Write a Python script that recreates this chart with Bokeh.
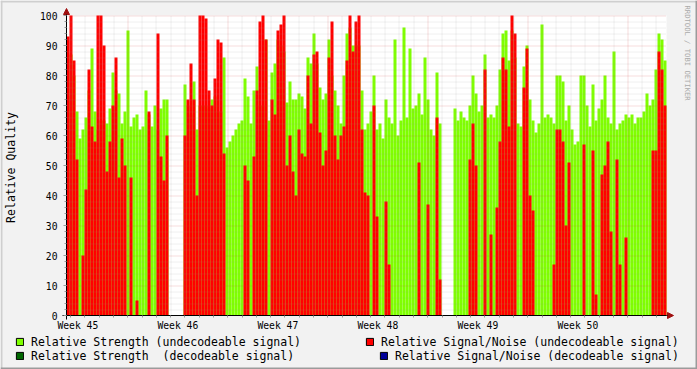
import math
import numpy as np
from bokeh.plotting import figure
from bokeh.models import (Range1d, FixedTicker, SingleIntervalTicker, Legend, LegendItem,
                          Label, Arrow, NormalHead, ColumnDataSource, BoxAnnotation)
from bokeh.embed import file_html
from bokeh.resources import INLINE

# ---------------- data ----------------
week_labels = ["Week 45", "Week 46", "Week 47", "Week 48", "Week 49", "Week 50"]
label_hours = [19, 187, 355, 523, 691, 859]          # label centres (hours from chart start)
week_start_hours = [103, 271, 439, 607, 775, 943]    # week boundaries (major grid)
day_hours = list(range(7, 1008, 24))                 # day boundaries (minor grid)
sample_hours = 5.04                                   # one consolidated sample
span_hours = 1008

N_ = None
# Relative Strength (undecodeable signal)
strength = [73, 87, 80, 68, 59, 62, 66, 75, 89, 68,
            62, 65, 65, 64, 69, 81, 75, 74, 64, 68,
            95, 63, 66, 67, 62, 63, 75, 67, 63, 70,
            62, 69, 72, 72, N_, N_, N_, N_, N_, 77,
            70, 67, 78, 62, 70, 70, 70, 69, 72, 73,
            68, 68, 86, 56, 58, 60, 62, 64, 65, 79,
            73, 64, 75, 83, 70, 70, 92, 65, 81, 84,
            92, 90, 88, 71, 78, 72, 72, 74, 73, 69,
            86, 84, 94, 84, 76, 72, 74, 92, 80, 75,
            70, 64, 80, 94, 96, 90, 90, 90, 75, 62,
            64, 68, 80, 62, 64, 59, 72, 66, 64, 92,
            60, 65, 96, 66, 89, 69, 70, 74, 67, 86,
            72, 62, 60, 81, 64, N_, N_, N_, N_, 69,
            65, 68, 66, 65, 70, 80, 74, 68, 70, 87,
            66, 67, 66, 70, 82, 94, 95, 85, 95, 86,
            64, 63, 83, 90, 72, 65, 61, 64, 97, 66,
            67, 66, 64, 80, 80, 78, 65, 70, 62, 57,
            58, 80, 80, 70, 63, 77, 65, 69, 72, 80,
            66, 64, 88, 62, 64, 65, 67, 66, 67, 64,
            66, 66, 68, 74, 70, 72, 82, 94, 92, 85]

# Relative Signal/Noise (undecodeable signal)
snr = [93, 100, 85, 52, 0, 20, 42, 82, 63, 58,
       100, 100, 90, 48, 58, 70, 86, 46, 59, 50,
       0, 46, 0, 5, 0, 0, 0, 68, 0, 0,
       94, 53, 45, 60, N_, N_, N_, N_, N_, 60,
       72, 84, 72, 40, 100, 100, 99, 75, 70, 79,
       92, 91, 54, 0, 0, 0, 0, 0, 0, 50,
       45, 0, 53, 75, 98, 100, 92, 0, 72, 67,
       95, 97, 100, 50, 60, 48, 40, 62, 54, 53,
       80, 64, 87, 88, 61, 50, 55, 86, 98, 60,
       52, 60, 63, 85, 100, 88, 98, 100, 62, 41,
       40, 0, 70, 33, 0, 0, 38, 17, 0, 0,
       0, 0, 0, 0, 0, 0, 0, 51, 0, 0,
       37, 0, 0, 66, 12, N_, N_, N_, N_, 0,
       0, 0, 0, 0, 52, 64, 50, 0, 0, 82,
       0, 27, 0, 36, 58, 86, 82, 63, 100, 94,
       0, 0, 76, 89, 40, 35, 0, 0, 0, 0,
       0, 0, 17, 62, 62, 58, 30, 51, 0, 0,
       0, 0, 57, 0, 0, 55, 7, 0, 47, 50,
       58, 28, 0, 52, 17, 0, 26, 0, 0, 0,
       0, 0, 0, 0, 0, 55, 55, 88, 82, 70]

GREEN = "#7FFF00"
RED = "#FF0000"
DGREEN = "#006600"
BLUE = "#000099"
FONT = "DejaVu Sans Mono"

# ---------------- geometry (canvas pixels -> data) ----------------
W, H = 697, 369
px_h = span_hours / 600.0          # hours per pixel
py_v = 1 / 3.0                     # value units per pixel
# plot area occupies canvas x 66..666, y 15..315
def hx(px):
    return (px - 66) * px_h

def vy(py):
    return (315 - py) * py_v

x_lo, x_hi = hx(0), hx(W)
y_lo, y_hi = vy(H), vy(0)

n = len(strength)
xs = [(i + 0.5) * sample_hours for i in range(n)]
src = ColumnDataSource(dict(
    x=xs,
    strength=np.array([np.nan if v is None else v for v in strength], dtype=float),
    snr=np.array([np.nan if v is None else v for v in snr], dtype=float),
))

p = figure(width=W, height=H, x_range=Range1d(x_lo, x_hi), y_range=Range1d(y_lo, y_hi),
           output_backend="svg", toolbar_location=None,
           min_border_left=0, min_border_right=0, min_border_top=0, min_border_bottom=0,
           background_fill_color="#F2F2F2", border_fill_color="#F2F2F2", outline_line_color=None)
p.grid.visible = False

# 3-D style frame of the image
p.add_layout(BoxAnnotation(left=x_lo, right=x_hi, bottom=vy(2), top=y_hi,
                           fill_color="#CFCFCF", fill_alpha=1, line_color=None, level="underlay"))
p.add_layout(BoxAnnotation(left=x_lo, right=hx(2), bottom=y_lo, top=y_hi,
                           fill_color="#CFCFCF", fill_alpha=1, line_color=None, level="underlay"))
p.add_layout(BoxAnnotation(left=hx(W - 2), right=x_hi, bottom=y_lo, top=y_hi,
                           fill_color="#9B9B9B", fill_alpha=1, line_color=None, level="underlay"))
p.add_layout(BoxAnnotation(left=x_lo, right=x_hi, bottom=y_lo, top=vy(H - 2),
                           fill_color="#9B9B9B", fill_alpha=1, line_color=None, level="underlay"))
# white canvas of the graph
p.add_layout(BoxAnnotation(left=0, right=span_hours, bottom=0, top=100,
                           fill_color="white", fill_alpha=1, line_color=None, level="underlay"))

p.vbar(x="x", top="strength", width=sample_hours, source=src,
       fill_color=GREEN, line_color=None)
p.vbar(x="x", top="snr", width=sample_hours, source=src,
       fill_color=RED, line_color=None)

# ---------------- grid (over the areas, like rrdtool) ----------------
def snap_x(h):
    return (math.floor(h / px_h) + 0.5) * px_h

minor_x = [snap_x(h) for h in day_hours if h not in week_start_hours]
major_x = [snap_x(h) for h in week_start_hours]
minor_y = [v - py_v / 2 for v in range(2, 101, 2) if v % 10]
major_y = [v - py_v / 2 for v in range(10, 101, 10)]

p.segment(x0=minor_x, x1=minor_x, y0=[0] * len(minor_x), y1=[100] * len(minor_x),
          line_color="#909090", line_alpha=0.28, line_dash="1 1", line_width=1)
p.segment(x0=[0] * len(minor_y), x1=[span_hours] * len(minor_y), y0=minor_y, y1=minor_y,
          line_color="#909090", line_alpha=0.28, line_dash="1 1", line_width=1)
p.segment(x0=major_x, x1=major_x, y0=[0] * len(major_x), y1=[100] * len(major_x),
          line_color="#D04040", line_alpha=0.35, line_dash="1 1", line_width=1)
p.segment(x0=[0] * len(major_y), x1=[span_hours] * len(major_y), y0=major_y, y1=major_y,
          line_color="#D04040", line_alpha=0.35, line_dash="1 1", line_width=1)

# ---------------- axes at fixed locations ----------------
xa = p.xaxis[0]
xa.fixed_location = 0
xa.bounds = (-4 * px_h, span_hours)
xa.ticker = FixedTicker(ticks=label_hours, minor_ticks=day_hours)
xa.major_label_overrides = {h: lab for h, lab in zip(label_hours, week_labels)}
xa.major_tick_line_color = None
xa.major_tick_out = 0
xa.major_tick_in = 0
xa.minor_tick_out = 2
xa.minor_tick_in = 0
xa.minor_tick_line_color = "#999999"
xa.major_label_standoff = 2
xa.major_label_text_font = FONT
xa.major_label_text_font_size = "9.7px"
xa.major_label_text_color = "black"
xa.axis_line_color = "black"

ya = p.yaxis[0]
ya.fixed_location = 0
ya.bounds = (-4 * py_v, 100)
ya.ticker = SingleIntervalTicker(interval=10, num_minor_ticks=5)
ya.major_tick_out = 3
ya.major_tick_in = 0
ya.minor_tick_out = 2
ya.minor_tick_in = 0
ya.major_tick_line_color = "#999999"
ya.minor_tick_line_color = "#999999"
ya.major_label_standoff = 6
ya.major_label_text_font = FONT
ya.major_label_text_font_size = "9.7px"
ya.major_label_text_color = "black"
ya.axis_line_color = "black"
ya.axis_label = "Relative Quality"
ya.axis_label_text_font = FONT
ya.axis_label_text_font_size = "11.5px"
ya.axis_label_text_font_style = "normal"
ya.axis_label_text_color = "black"
ya.axis_label_standoff = 19

# axis arrows
p.add_layout(Arrow(end=NormalHead(size=6, fill_color="#A01010", line_color="#A01010"),
                   x_start=span_hours, y_start=0, x_end=span_hours + 7 * px_h, y_end=0,
                   line_color="black", line_width=1))
p.add_layout(Arrow(end=NormalHead(size=6, fill_color="#A01010", line_color="#A01010"),
                   x_start=0, y_start=100, x_end=0, y_end=100 + 7 * py_v,
                   line_color="black", line_width=1))

# watermark
p.add_layout(Label(x=hx(686.7), y=vy(5), text="RRDTOOL / TOBI OETIKER",
                   angle=-math.pi / 2, text_align="left", text_baseline="middle",
                   text_font=FONT, text_font_size="7.2px", text_color="#AAAAAA"))

# ---------------- legend ----------------
def swatch(color):
    return p.quad(left=[np.nan], right=[np.nan], top=[np.nan], bottom=[np.nan],
                  fill_color=color, line_color="black", line_width=1)

r_g = swatch(GREEN)
r_dg = swatch(DGREEN)
r_r = swatch(RED)
r_b = swatch(BLUE)

def make_legend(items, loc):
    lg = Legend(items=items, location=loc, orientation="vertical",
                border_line_color=None, background_fill_alpha=0,
                label_text_font=FONT, label_text_font_size="11.5px", label_text_color="black",
                glyph_width=9, glyph_height=9, label_standoff=7, label_height=14,
                padding=0, margin=0, spacing=0)
    p.add_layout(lg, "center")
    return lg

make_legend([LegendItem(label="Relative Strength (undecodeable signal)", renderers=[r_g]),
             LegendItem(label="Relative Strength  (decodeable signal)", renderers=[r_dg])],
            (15, 6.5))
make_legend([LegendItem(label="Relative Signal/Noise (undecodeable signal)", renderers=[r_r])],
            (365, 20.5))
make_legend([LegendItem(label="Relative Signal/Noise (decodeable signal)", renderers=[r_b])],
            (379, 6.5))

open("out.html", "w").write(file_html(p, INLINE))
